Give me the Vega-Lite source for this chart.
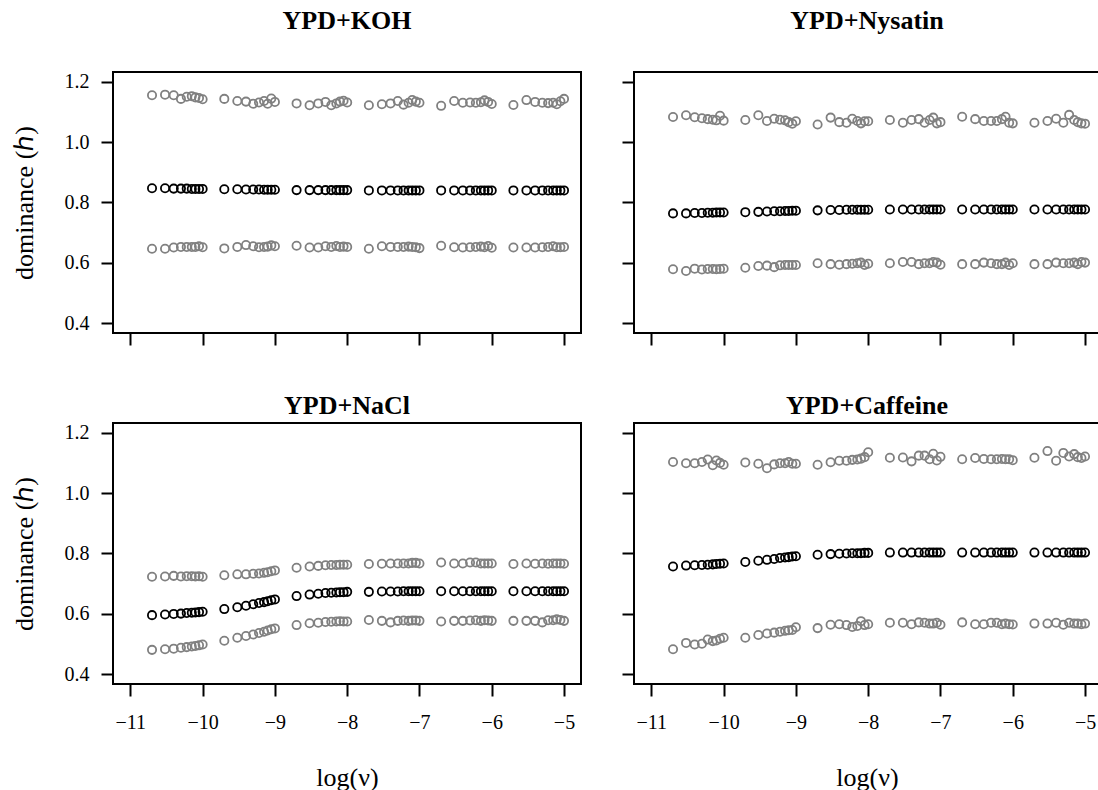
{
"$schema": "https://vega.github.io/schema/vega-lite/v6.json",
"background": "white",
"padding": {"left": 10, "top": 6, "right": 0, "bottom": 0},
"config": {
  "view": {"stroke": "black", "strokeWidth": 2},
  "font": "Liberation Serif",
  "axis": {"domain": false, "grid": false, "ticks": true, "tickColor": "black", "tickWidth": 2, "tickSize": 12,
    "labelFont": "Liberation Serif", "labelFontSize": 20, "labelColor": "black",
    "titleFont": "Liberation Serif", "titleFontSize": 26, "titleFontWeight": "normal", "titleColor": "black"},
  "title": {"font": "Liberation Serif", "fontSize": 26, "fontWeight": "bold", "color": "black", "anchor": "middle", "frame": "group", "baseline": "alphabetic"},
  "point": {"shape": "circle", "filled": false, "size": 68, "strokeWidth": 1.8, "opacity": 1}
},
"datasets": {
"KOH": [
{"s":"hi","x":-10.7,"y":1.155},{"s":"hi","x":-10.52,"y":1.157},{"s":"hi","x":-10.4,"y":1.155},{"s":"hi","x":-10.3,"y":1.143},{"s":"hi","x":-10.22,"y":1.15},{"s":"hi","x":-10.15,"y":1.152},{"s":"hi","x":-10.1,"y":1.148},{"s":"hi","x":-10.05,"y":1.146},{"s":"hi","x":-10,"y":1.142},
{"s":"hi","x":-9.7,"y":1.143},{"s":"hi","x":-9.52,"y":1.136},{"s":"hi","x":-9.4,"y":1.134},{"s":"hi","x":-9.3,"y":1.127},{"s":"hi","x":-9.22,"y":1.131},{"s":"hi","x":-9.15,"y":1.136},{"s":"hi","x":-9.1,"y":1.127},{"s":"hi","x":-9.05,"y":1.144},{"s":"hi","x":-9,"y":1.133},
{"s":"hi","x":-8.7,"y":1.128},{"s":"hi","x":-8.52,"y":1.122},{"s":"hi","x":-8.4,"y":1.128},{"s":"hi","x":-8.3,"y":1.133},{"s":"hi","x":-8.22,"y":1.122},{"s":"hi","x":-8.15,"y":1.128},{"s":"hi","x":-8.1,"y":1.134},{"s":"hi","x":-8.05,"y":1.137},{"s":"hi","x":-8,"y":1.131},
{"s":"hi","x":-7.7,"y":1.122},{"s":"hi","x":-7.52,"y":1.125},{"s":"hi","x":-7.4,"y":1.128},{"s":"hi","x":-7.3,"y":1.136},{"s":"hi","x":-7.22,"y":1.124},{"s":"hi","x":-7.15,"y":1.13},{"s":"hi","x":-7.1,"y":1.139},{"s":"hi","x":-7.05,"y":1.134},{"s":"hi","x":-7,"y":1.13},
{"s":"hi","x":-6.7,"y":1.12},{"s":"hi","x":-6.52,"y":1.136},{"s":"hi","x":-6.4,"y":1.13},{"s":"hi","x":-6.3,"y":1.131},{"s":"hi","x":-6.22,"y":1.13},{"s":"hi","x":-6.15,"y":1.132},{"s":"hi","x":-6.1,"y":1.138},{"s":"hi","x":-6.05,"y":1.133},{"s":"hi","x":-6,"y":1.126},
{"s":"hi","x":-5.7,"y":1.123},{"s":"hi","x":-5.52,"y":1.139},{"s":"hi","x":-5.4,"y":1.133},{"s":"hi","x":-5.3,"y":1.13},{"s":"hi","x":-5.22,"y":1.129},{"s":"hi","x":-5.15,"y":1.13},{"s":"hi","x":-5.1,"y":1.125},{"s":"hi","x":-5.05,"y":1.135},{"s":"hi","x":-5,"y":1.143},
{"s":"mid","x":-10.7,"y":0.847},{"s":"mid","x":-10.52,"y":0.847},{"s":"mid","x":-10.4,"y":0.846},{"s":"mid","x":-10.3,"y":0.846},{"s":"mid","x":-10.22,"y":0.846},{"s":"mid","x":-10.15,"y":0.845},{"s":"mid","x":-10.1,"y":0.845},{"s":"mid","x":-10.05,"y":0.845},{"s":"mid","x":-10,"y":0.845},
{"s":"mid","x":-9.7,"y":0.844},{"s":"mid","x":-9.52,"y":0.844},{"s":"mid","x":-9.4,"y":0.843},{"s":"mid","x":-9.3,"y":0.843},{"s":"mid","x":-9.22,"y":0.843},{"s":"mid","x":-9.15,"y":0.842},{"s":"mid","x":-9.1,"y":0.842},{"s":"mid","x":-9.05,"y":0.842},{"s":"mid","x":-9,"y":0.842},
{"s":"mid","x":-8.7,"y":0.841},{"s":"mid","x":-8.52,"y":0.841},{"s":"mid","x":-8.4,"y":0.841},{"s":"mid","x":-8.3,"y":0.841},{"s":"mid","x":-8.22,"y":0.841},{"s":"mid","x":-8.15,"y":0.841},{"s":"mid","x":-8.1,"y":0.841},{"s":"mid","x":-8.05,"y":0.841},{"s":"mid","x":-8,"y":0.841},
{"s":"mid","x":-7.7,"y":0.84},{"s":"mid","x":-7.52,"y":0.84},{"s":"mid","x":-7.4,"y":0.84},{"s":"mid","x":-7.3,"y":0.84},{"s":"mid","x":-7.22,"y":0.84},{"s":"mid","x":-7.15,"y":0.84},{"s":"mid","x":-7.1,"y":0.84},{"s":"mid","x":-7.05,"y":0.84},{"s":"mid","x":-7,"y":0.84},
{"s":"mid","x":-6.7,"y":0.84},{"s":"mid","x":-6.52,"y":0.84},{"s":"mid","x":-6.4,"y":0.84},{"s":"mid","x":-6.3,"y":0.84},{"s":"mid","x":-6.22,"y":0.84},{"s":"mid","x":-6.15,"y":0.84},{"s":"mid","x":-6.1,"y":0.84},{"s":"mid","x":-6.05,"y":0.84},{"s":"mid","x":-6,"y":0.84},
{"s":"mid","x":-5.7,"y":0.84},{"s":"mid","x":-5.52,"y":0.84},{"s":"mid","x":-5.4,"y":0.84},{"s":"mid","x":-5.3,"y":0.84},{"s":"mid","x":-5.22,"y":0.84},{"s":"mid","x":-5.15,"y":0.84},{"s":"mid","x":-5.1,"y":0.84},{"s":"mid","x":-5.05,"y":0.84},{"s":"mid","x":-5,"y":0.84},
{"s":"lo","x":-10.7,"y":0.647},{"s":"lo","x":-10.52,"y":0.647},{"s":"lo","x":-10.4,"y":0.651},{"s":"lo","x":-10.3,"y":0.653},{"s":"lo","x":-10.22,"y":0.653},{"s":"lo","x":-10.15,"y":0.653},{"s":"lo","x":-10.1,"y":0.653},{"s":"lo","x":-10.05,"y":0.655},{"s":"lo","x":-10,"y":0.652},
{"s":"lo","x":-9.7,"y":0.648},{"s":"lo","x":-9.52,"y":0.653},{"s":"lo","x":-9.4,"y":0.659},{"s":"lo","x":-9.3,"y":0.655},{"s":"lo","x":-9.22,"y":0.652},{"s":"lo","x":-9.15,"y":0.653},{"s":"lo","x":-9.1,"y":0.654},{"s":"lo","x":-9.05,"y":0.658},{"s":"lo","x":-9,"y":0.655},
{"s":"lo","x":-8.7,"y":0.657},{"s":"lo","x":-8.52,"y":0.651},{"s":"lo","x":-8.4,"y":0.651},{"s":"lo","x":-8.3,"y":0.655},{"s":"lo","x":-8.22,"y":0.653},{"s":"lo","x":-8.15,"y":0.656},{"s":"lo","x":-8.1,"y":0.653},{"s":"lo","x":-8.05,"y":0.654},{"s":"lo","x":-8,"y":0.653},
{"s":"lo","x":-7.7,"y":0.647},{"s":"lo","x":-7.52,"y":0.655},{"s":"lo","x":-7.4,"y":0.653},{"s":"lo","x":-7.3,"y":0.653},{"s":"lo","x":-7.22,"y":0.653},{"s":"lo","x":-7.15,"y":0.654},{"s":"lo","x":-7.1,"y":0.653},{"s":"lo","x":-7.05,"y":0.652},{"s":"lo","x":-7,"y":0.649},
{"s":"lo","x":-6.7,"y":0.657},{"s":"lo","x":-6.52,"y":0.652},{"s":"lo","x":-6.4,"y":0.651},{"s":"lo","x":-6.3,"y":0.652},{"s":"lo","x":-6.22,"y":0.653},{"s":"lo","x":-6.15,"y":0.654},{"s":"lo","x":-6.1,"y":0.652},{"s":"lo","x":-6.05,"y":0.656},{"s":"lo","x":-6,"y":0.65},
{"s":"lo","x":-5.7,"y":0.651},{"s":"lo","x":-5.52,"y":0.651},{"s":"lo","x":-5.4,"y":0.651},{"s":"lo","x":-5.3,"y":0.652},{"s":"lo","x":-5.22,"y":0.653},{"s":"lo","x":-5.15,"y":0.655},{"s":"lo","x":-5.1,"y":0.652},{"s":"lo","x":-5.05,"y":0.652},{"s":"lo","x":-5,"y":0.653}
],
"Nysatin": [
{"s":"hi","x":-10.7,"y":1.083},{"s":"hi","x":-10.52,"y":1.089},{"s":"hi","x":-10.4,"y":1.082},{"s":"hi","x":-10.3,"y":1.079},{"s":"hi","x":-10.22,"y":1.076},{"s":"hi","x":-10.15,"y":1.074},{"s":"hi","x":-10.1,"y":1.072},{"s":"hi","x":-10.05,"y":1.087},{"s":"hi","x":-10,"y":1.071},
{"s":"hi","x":-9.7,"y":1.073},{"s":"hi","x":-9.52,"y":1.089},{"s":"hi","x":-9.4,"y":1.07},{"s":"hi","x":-9.3,"y":1.077},{"s":"hi","x":-9.22,"y":1.074},{"s":"hi","x":-9.15,"y":1.072},{"s":"hi","x":-9.1,"y":1.066},{"s":"hi","x":-9.05,"y":1.061},{"s":"hi","x":-9,"y":1.069},
{"s":"hi","x":-8.7,"y":1.058},{"s":"hi","x":-8.52,"y":1.081},{"s":"hi","x":-8.4,"y":1.066},{"s":"hi","x":-8.3,"y":1.064},{"s":"hi","x":-8.22,"y":1.077},{"s":"hi","x":-8.15,"y":1.07},{"s":"hi","x":-8.1,"y":1.062},{"s":"hi","x":-8.05,"y":1.069},{"s":"hi","x":-8,"y":1.069},
{"s":"hi","x":-7.7,"y":1.073},{"s":"hi","x":-7.52,"y":1.064},{"s":"hi","x":-7.4,"y":1.073},{"s":"hi","x":-7.3,"y":1.076},{"s":"hi","x":-7.22,"y":1.064},{"s":"hi","x":-7.15,"y":1.073},{"s":"hi","x":-7.1,"y":1.081},{"s":"hi","x":-7.05,"y":1.062},{"s":"hi","x":-7,"y":1.066},
{"s":"hi","x":-6.7,"y":1.084},{"s":"hi","x":-6.52,"y":1.076},{"s":"hi","x":-6.4,"y":1.07},{"s":"hi","x":-6.3,"y":1.07},{"s":"hi","x":-6.22,"y":1.07},{"s":"hi","x":-6.15,"y":1.076},{"s":"hi","x":-6.1,"y":1.084},{"s":"hi","x":-6.05,"y":1.064},{"s":"hi","x":-6,"y":1.062},
{"s":"hi","x":-5.7,"y":1.064},{"s":"hi","x":-5.52,"y":1.07},{"s":"hi","x":-5.4,"y":1.077},{"s":"hi","x":-5.3,"y":1.064},{"s":"hi","x":-5.22,"y":1.09},{"s":"hi","x":-5.15,"y":1.073},{"s":"hi","x":-5.1,"y":1.066},{"s":"hi","x":-5.05,"y":1.062},{"s":"hi","x":-5,"y":1.061},
{"s":"mid","x":-10.7,"y":0.764},{"s":"mid","x":-10.52,"y":0.764},{"s":"mid","x":-10.4,"y":0.765},{"s":"mid","x":-10.3,"y":0.765},{"s":"mid","x":-10.22,"y":0.766},{"s":"mid","x":-10.15,"y":0.766},{"s":"mid","x":-10.1,"y":0.767},{"s":"mid","x":-10.05,"y":0.767},{"s":"mid","x":-10,"y":0.767},
{"s":"mid","x":-9.7,"y":0.768},{"s":"mid","x":-9.52,"y":0.769},{"s":"mid","x":-9.4,"y":0.77},{"s":"mid","x":-9.3,"y":0.771},{"s":"mid","x":-9.22,"y":0.771},{"s":"mid","x":-9.15,"y":0.772},{"s":"mid","x":-9.1,"y":0.772},{"s":"mid","x":-9.05,"y":0.773},{"s":"mid","x":-9,"y":0.773},
{"s":"mid","x":-8.7,"y":0.774},{"s":"mid","x":-8.52,"y":0.775},{"s":"mid","x":-8.4,"y":0.775},{"s":"mid","x":-8.3,"y":0.776},{"s":"mid","x":-8.22,"y":0.776},{"s":"mid","x":-8.15,"y":0.776},{"s":"mid","x":-8.1,"y":0.776},{"s":"mid","x":-8.05,"y":0.776},{"s":"mid","x":-8,"y":0.776},
{"s":"mid","x":-7.7,"y":0.777},{"s":"mid","x":-7.52,"y":0.777},{"s":"mid","x":-7.4,"y":0.777},{"s":"mid","x":-7.3,"y":0.777},{"s":"mid","x":-7.22,"y":0.777},{"s":"mid","x":-7.15,"y":0.777},{"s":"mid","x":-7.1,"y":0.777},{"s":"mid","x":-7.05,"y":0.777},{"s":"mid","x":-7,"y":0.777},
{"s":"mid","x":-6.7,"y":0.777},{"s":"mid","x":-6.52,"y":0.777},{"s":"mid","x":-6.4,"y":0.777},{"s":"mid","x":-6.3,"y":0.777},{"s":"mid","x":-6.22,"y":0.777},{"s":"mid","x":-6.15,"y":0.777},{"s":"mid","x":-6.1,"y":0.777},{"s":"mid","x":-6.05,"y":0.777},{"s":"mid","x":-6,"y":0.777},
{"s":"mid","x":-5.7,"y":0.777},{"s":"mid","x":-5.52,"y":0.777},{"s":"mid","x":-5.4,"y":0.777},{"s":"mid","x":-5.3,"y":0.777},{"s":"mid","x":-5.22,"y":0.777},{"s":"mid","x":-5.15,"y":0.777},{"s":"mid","x":-5.1,"y":0.777},{"s":"mid","x":-5.05,"y":0.777},{"s":"mid","x":-5,"y":0.777},
{"s":"lo","x":-10.7,"y":0.579},{"s":"lo","x":-10.52,"y":0.573},{"s":"lo","x":-10.4,"y":0.581},{"s":"lo","x":-10.3,"y":0.578},{"s":"lo","x":-10.22,"y":0.58},{"s":"lo","x":-10.15,"y":0.58},{"s":"lo","x":-10.1,"y":0.579},{"s":"lo","x":-10.05,"y":0.58},{"s":"lo","x":-10,"y":0.581},
{"s":"lo","x":-9.7,"y":0.584},{"s":"lo","x":-9.52,"y":0.59},{"s":"lo","x":-9.4,"y":0.591},{"s":"lo","x":-9.3,"y":0.586},{"s":"lo","x":-9.22,"y":0.592},{"s":"lo","x":-9.15,"y":0.593},{"s":"lo","x":-9.1,"y":0.593},{"s":"lo","x":-9.05,"y":0.593},{"s":"lo","x":-9,"y":0.593},
{"s":"lo","x":-8.7,"y":0.599},{"s":"lo","x":-8.52,"y":0.596},{"s":"lo","x":-8.4,"y":0.594},{"s":"lo","x":-8.3,"y":0.596},{"s":"lo","x":-8.22,"y":0.597},{"s":"lo","x":-8.15,"y":0.599},{"s":"lo","x":-8.1,"y":0.601},{"s":"lo","x":-8.05,"y":0.593},{"s":"lo","x":-8,"y":0.597},
{"s":"lo","x":-7.7,"y":0.599},{"s":"lo","x":-7.52,"y":0.603},{"s":"lo","x":-7.4,"y":0.603},{"s":"lo","x":-7.3,"y":0.596},{"s":"lo","x":-7.22,"y":0.599},{"s":"lo","x":-7.15,"y":0.599},{"s":"lo","x":-7.1,"y":0.603},{"s":"lo","x":-7.05,"y":0.601},{"s":"lo","x":-7,"y":0.594},
{"s":"lo","x":-6.7,"y":0.596},{"s":"lo","x":-6.52,"y":0.596},{"s":"lo","x":-6.4,"y":0.601},{"s":"lo","x":-6.3,"y":0.599},{"s":"lo","x":-6.22,"y":0.596},{"s":"lo","x":-6.15,"y":0.596},{"s":"lo","x":-6.1,"y":0.601},{"s":"lo","x":-6.05,"y":0.593},{"s":"lo","x":-6,"y":0.599},
{"s":"lo","x":-5.7,"y":0.596},{"s":"lo","x":-5.52,"y":0.596},{"s":"lo","x":-5.4,"y":0.601},{"s":"lo","x":-5.3,"y":0.599},{"s":"lo","x":-5.22,"y":0.599},{"s":"lo","x":-5.15,"y":0.601},{"s":"lo","x":-5.1,"y":0.596},{"s":"lo","x":-5.05,"y":0.603},{"s":"lo","x":-5,"y":0.601}
],
"NaCl": [
{"s":"hi","x":-10.7,"y":0.723},{"s":"hi","x":-10.52,"y":0.724},{"s":"hi","x":-10.4,"y":0.726},{"s":"hi","x":-10.3,"y":0.724},{"s":"hi","x":-10.22,"y":0.725},{"s":"hi","x":-10.15,"y":0.725},{"s":"hi","x":-10.1,"y":0.724},{"s":"hi","x":-10.05,"y":0.725},{"s":"hi","x":-10,"y":0.723},
{"s":"hi","x":-9.7,"y":0.728},{"s":"hi","x":-9.52,"y":0.731},{"s":"hi","x":-9.4,"y":0.731},{"s":"hi","x":-9.3,"y":0.733},{"s":"hi","x":-9.22,"y":0.734},{"s":"hi","x":-9.15,"y":0.736},{"s":"hi","x":-9.1,"y":0.738},{"s":"hi","x":-9.05,"y":0.741},{"s":"hi","x":-9,"y":0.744},
{"s":"hi","x":-8.7,"y":0.753},{"s":"hi","x":-8.52,"y":0.757},{"s":"hi","x":-8.4,"y":0.759},{"s":"hi","x":-8.3,"y":0.761},{"s":"hi","x":-8.22,"y":0.762},{"s":"hi","x":-8.15,"y":0.762},{"s":"hi","x":-8.1,"y":0.763},{"s":"hi","x":-8.05,"y":0.763},{"s":"hi","x":-8,"y":0.763},
{"s":"hi","x":-7.7,"y":0.765},{"s":"hi","x":-7.52,"y":0.766},{"s":"hi","x":-7.4,"y":0.767},{"s":"hi","x":-7.3,"y":0.767},{"s":"hi","x":-7.22,"y":0.767},{"s":"hi","x":-7.15,"y":0.767},{"s":"hi","x":-7.1,"y":0.769},{"s":"hi","x":-7.05,"y":0.769},{"s":"hi","x":-7,"y":0.767},
{"s":"hi","x":-6.7,"y":0.77},{"s":"hi","x":-6.52,"y":0.767},{"s":"hi","x":-6.4,"y":0.767},{"s":"hi","x":-6.3,"y":0.77},{"s":"hi","x":-6.22,"y":0.77},{"s":"hi","x":-6.15,"y":0.767},{"s":"hi","x":-6.1,"y":0.767},{"s":"hi","x":-6.05,"y":0.767},{"s":"hi","x":-6,"y":0.767},
{"s":"hi","x":-5.7,"y":0.765},{"s":"hi","x":-5.52,"y":0.767},{"s":"hi","x":-5.4,"y":0.766},{"s":"hi","x":-5.3,"y":0.767},{"s":"hi","x":-5.22,"y":0.766},{"s":"hi","x":-5.15,"y":0.767},{"s":"hi","x":-5.1,"y":0.767},{"s":"hi","x":-5.05,"y":0.767},{"s":"hi","x":-5,"y":0.766},
{"s":"mid","x":-10.7,"y":0.596},{"s":"mid","x":-10.52,"y":0.598},{"s":"mid","x":-10.4,"y":0.6},{"s":"mid","x":-10.3,"y":0.601},{"s":"mid","x":-10.22,"y":0.603},{"s":"mid","x":-10.15,"y":0.604},{"s":"mid","x":-10.1,"y":0.605},{"s":"mid","x":-10.05,"y":0.606},{"s":"mid","x":-10,"y":0.607},
{"s":"mid","x":-9.7,"y":0.616},{"s":"mid","x":-9.52,"y":0.622},{"s":"mid","x":-9.4,"y":0.627},{"s":"mid","x":-9.3,"y":0.632},{"s":"mid","x":-9.22,"y":0.636},{"s":"mid","x":-9.15,"y":0.639},{"s":"mid","x":-9.1,"y":0.642},{"s":"mid","x":-9.05,"y":0.645},{"s":"mid","x":-9,"y":0.648},
{"s":"mid","x":-8.7,"y":0.659},{"s":"mid","x":-8.52,"y":0.664},{"s":"mid","x":-8.4,"y":0.667},{"s":"mid","x":-8.3,"y":0.669},{"s":"mid","x":-8.22,"y":0.67},{"s":"mid","x":-8.15,"y":0.671},{"s":"mid","x":-8.1,"y":0.672},{"s":"mid","x":-8.05,"y":0.672},{"s":"mid","x":-8,"y":0.673},
{"s":"mid","x":-7.7,"y":0.673},{"s":"mid","x":-7.52,"y":0.674},{"s":"mid","x":-7.4,"y":0.674},{"s":"mid","x":-7.3,"y":0.674},{"s":"mid","x":-7.22,"y":0.675},{"s":"mid","x":-7.15,"y":0.675},{"s":"mid","x":-7.1,"y":0.675},{"s":"mid","x":-7.05,"y":0.675},{"s":"mid","x":-7,"y":0.675},
{"s":"mid","x":-6.7,"y":0.675},{"s":"mid","x":-6.52,"y":0.675},{"s":"mid","x":-6.4,"y":0.675},{"s":"mid","x":-6.3,"y":0.675},{"s":"mid","x":-6.22,"y":0.675},{"s":"mid","x":-6.15,"y":0.675},{"s":"mid","x":-6.1,"y":0.675},{"s":"mid","x":-6.05,"y":0.675},{"s":"mid","x":-6,"y":0.675},
{"s":"mid","x":-5.7,"y":0.675},{"s":"mid","x":-5.52,"y":0.675},{"s":"mid","x":-5.4,"y":0.675},{"s":"mid","x":-5.3,"y":0.675},{"s":"mid","x":-5.22,"y":0.675},{"s":"mid","x":-5.15,"y":0.675},{"s":"mid","x":-5.1,"y":0.675},{"s":"mid","x":-5.05,"y":0.675},{"s":"mid","x":-5,"y":0.675},
{"s":"lo","x":-10.7,"y":0.481},{"s":"lo","x":-10.52,"y":0.483},{"s":"lo","x":-10.4,"y":0.485},{"s":"lo","x":-10.3,"y":0.488},{"s":"lo","x":-10.22,"y":0.49},{"s":"lo","x":-10.15,"y":0.492},{"s":"lo","x":-10.1,"y":0.494},{"s":"lo","x":-10.05,"y":0.496},{"s":"lo","x":-10,"y":0.499},
{"s":"lo","x":-9.7,"y":0.511},{"s":"lo","x":-9.52,"y":0.521},{"s":"lo","x":-9.4,"y":0.527},{"s":"lo","x":-9.3,"y":0.532},{"s":"lo","x":-9.22,"y":0.537},{"s":"lo","x":-9.15,"y":0.541},{"s":"lo","x":-9.1,"y":0.545},{"s":"lo","x":-9.05,"y":0.549},{"s":"lo","x":-9,"y":0.552},
{"s":"lo","x":-8.7,"y":0.563},{"s":"lo","x":-8.52,"y":0.569},{"s":"lo","x":-8.4,"y":0.571},{"s":"lo","x":-8.3,"y":0.573},{"s":"lo","x":-8.22,"y":0.574},{"s":"lo","x":-8.15,"y":0.575},{"s":"lo","x":-8.1,"y":0.576},{"s":"lo","x":-8.05,"y":0.575},{"s":"lo","x":-8,"y":0.575},
{"s":"lo","x":-7.7,"y":0.58},{"s":"lo","x":-7.52,"y":0.577},{"s":"lo","x":-7.4,"y":0.572},{"s":"lo","x":-7.3,"y":0.577},{"s":"lo","x":-7.22,"y":0.578},{"s":"lo","x":-7.15,"y":0.577},{"s":"lo","x":-7.1,"y":0.578},{"s":"lo","x":-7.05,"y":0.578},{"s":"lo","x":-7,"y":0.577},
{"s":"lo","x":-6.7,"y":0.575},{"s":"lo","x":-6.52,"y":0.577},{"s":"lo","x":-6.4,"y":0.577},{"s":"lo","x":-6.3,"y":0.578},{"s":"lo","x":-6.22,"y":0.579},{"s":"lo","x":-6.15,"y":0.577},{"s":"lo","x":-6.1,"y":0.579},{"s":"lo","x":-6.05,"y":0.578},{"s":"lo","x":-6,"y":0.577},
{"s":"lo","x":-5.7,"y":0.577},{"s":"lo","x":-5.52,"y":0.577},{"s":"lo","x":-5.4,"y":0.577},{"s":"lo","x":-5.3,"y":0.572},{"s":"lo","x":-5.22,"y":0.579},{"s":"lo","x":-5.15,"y":0.579},{"s":"lo","x":-5.1,"y":0.582},{"s":"lo","x":-5.05,"y":0.58},{"s":"lo","x":-5,"y":0.577}
],
"Caffeine": [
{"s":"hi","x":-10.7,"y":1.103},{"s":"hi","x":-10.52,"y":1.099},{"s":"hi","x":-10.4,"y":1.099},{"s":"hi","x":-10.3,"y":1.103},{"s":"hi","x":-10.22,"y":1.111},{"s":"hi","x":-10.15,"y":1.092},{"s":"hi","x":-10.1,"y":1.108},{"s":"hi","x":-10.05,"y":1.1},{"s":"hi","x":-10,"y":1.094},
{"s":"hi","x":-9.7,"y":1.101},{"s":"hi","x":-9.52,"y":1.097},{"s":"hi","x":-9.4,"y":1.082},{"s":"hi","x":-9.3,"y":1.095},{"s":"hi","x":-9.22,"y":1.099},{"s":"hi","x":-9.15,"y":1.099},{"s":"hi","x":-9.1,"y":1.103},{"s":"hi","x":-9.05,"y":1.097},{"s":"hi","x":-9,"y":1.097},
{"s":"hi","x":-8.7,"y":1.094},{"s":"hi","x":-8.52,"y":1.102},{"s":"hi","x":-8.4,"y":1.107},{"s":"hi","x":-8.3,"y":1.107},{"s":"hi","x":-8.22,"y":1.11},{"s":"hi","x":-8.15,"y":1.111},{"s":"hi","x":-8.1,"y":1.114},{"s":"hi","x":-8.05,"y":1.119},{"s":"hi","x":-8,"y":1.135},
{"s":"hi","x":-7.7,"y":1.117},{"s":"hi","x":-7.52,"y":1.118},{"s":"hi","x":-7.4,"y":1.105},{"s":"hi","x":-7.3,"y":1.124},{"s":"hi","x":-7.22,"y":1.124},{"s":"hi","x":-7.15,"y":1.112},{"s":"hi","x":-7.1,"y":1.13},{"s":"hi","x":-7.05,"y":1.108},{"s":"hi","x":-7,"y":1.12},
{"s":"hi","x":-6.7,"y":1.112},{"s":"hi","x":-6.52,"y":1.116},{"s":"hi","x":-6.4,"y":1.113},{"s":"hi","x":-6.3,"y":1.112},{"s":"hi","x":-6.22,"y":1.112},{"s":"hi","x":-6.15,"y":1.113},{"s":"hi","x":-6.1,"y":1.112},{"s":"hi","x":-6.05,"y":1.112},{"s":"hi","x":-6,"y":1.109},
{"s":"hi","x":-5.7,"y":1.117},{"s":"hi","x":-5.52,"y":1.139},{"s":"hi","x":-5.4,"y":1.107},{"s":"hi","x":-5.3,"y":1.133},{"s":"hi","x":-5.22,"y":1.121},{"s":"hi","x":-5.15,"y":1.129},{"s":"hi","x":-5.1,"y":1.119},{"s":"hi","x":-5.05,"y":1.116},{"s":"hi","x":-5,"y":1.121},
{"s":"mid","x":-10.7,"y":0.757},{"s":"mid","x":-10.52,"y":0.76},{"s":"mid","x":-10.4,"y":0.761},{"s":"mid","x":-10.3,"y":0.762},{"s":"mid","x":-10.22,"y":0.763},{"s":"mid","x":-10.15,"y":0.764},{"s":"mid","x":-10.1,"y":0.765},{"s":"mid","x":-10.05,"y":0.766},{"s":"mid","x":-10,"y":0.767},
{"s":"mid","x":-9.7,"y":0.772},{"s":"mid","x":-9.52,"y":0.776},{"s":"mid","x":-9.4,"y":0.779},{"s":"mid","x":-9.3,"y":0.782},{"s":"mid","x":-9.22,"y":0.785},{"s":"mid","x":-9.15,"y":0.787},{"s":"mid","x":-9.1,"y":0.788},{"s":"mid","x":-9.05,"y":0.79},{"s":"mid","x":-9,"y":0.791},
{"s":"mid","x":-8.7,"y":0.796},{"s":"mid","x":-8.52,"y":0.798},{"s":"mid","x":-8.4,"y":0.799},{"s":"mid","x":-8.3,"y":0.8},{"s":"mid","x":-8.22,"y":0.801},{"s":"mid","x":-8.15,"y":0.801},{"s":"mid","x":-8.1,"y":0.801},{"s":"mid","x":-8.05,"y":0.802},{"s":"mid","x":-8,"y":0.802},
{"s":"mid","x":-7.7,"y":0.803},{"s":"mid","x":-7.52,"y":0.803},{"s":"mid","x":-7.4,"y":0.803},{"s":"mid","x":-7.3,"y":0.803},{"s":"mid","x":-7.22,"y":0.803},{"s":"mid","x":-7.15,"y":0.803},{"s":"mid","x":-7.1,"y":0.803},{"s":"mid","x":-7.05,"y":0.803},{"s":"mid","x":-7,"y":0.803},
{"s":"mid","x":-6.7,"y":0.803},{"s":"mid","x":-6.52,"y":0.803},{"s":"mid","x":-6.4,"y":0.803},{"s":"mid","x":-6.3,"y":0.803},{"s":"mid","x":-6.22,"y":0.803},{"s":"mid","x":-6.15,"y":0.803},{"s":"mid","x":-6.1,"y":0.803},{"s":"mid","x":-6.05,"y":0.803},{"s":"mid","x":-6,"y":0.803},
{"s":"mid","x":-5.7,"y":0.803},{"s":"mid","x":-5.52,"y":0.803},{"s":"mid","x":-5.4,"y":0.803},{"s":"mid","x":-5.3,"y":0.803},{"s":"mid","x":-5.22,"y":0.803},{"s":"mid","x":-5.15,"y":0.803},{"s":"mid","x":-5.1,"y":0.803},{"s":"mid","x":-5.05,"y":0.803},{"s":"mid","x":-5,"y":0.803},
{"s":"lo","x":-10.7,"y":0.483},{"s":"lo","x":-10.52,"y":0.504},{"s":"lo","x":-10.4,"y":0.499},{"s":"lo","x":-10.3,"y":0.501},{"s":"lo","x":-10.22,"y":0.515},{"s":"lo","x":-10.15,"y":0.51},{"s":"lo","x":-10.1,"y":0.512},{"s":"lo","x":-10.05,"y":0.518},{"s":"lo","x":-10,"y":0.521},
{"s":"lo","x":-9.7,"y":0.521},{"s":"lo","x":-9.52,"y":0.53},{"s":"lo","x":-9.4,"y":0.535},{"s":"lo","x":-9.3,"y":0.538},{"s":"lo","x":-9.22,"y":0.541},{"s":"lo","x":-9.15,"y":0.544},{"s":"lo","x":-9.1,"y":0.546},{"s":"lo","x":-9.05,"y":0.547},{"s":"lo","x":-9,"y":0.556},
{"s":"lo","x":-8.7,"y":0.553},{"s":"lo","x":-8.52,"y":0.564},{"s":"lo","x":-8.4,"y":0.566},{"s":"lo","x":-8.3,"y":0.563},{"s":"lo","x":-8.22,"y":0.557},{"s":"lo","x":-8.15,"y":0.56},{"s":"lo","x":-8.1,"y":0.576},{"s":"lo","x":-8.05,"y":0.563},{"s":"lo","x":-8,"y":0.566},
{"s":"lo","x":-7.7,"y":0.571},{"s":"lo","x":-7.52,"y":0.571},{"s":"lo","x":-7.4,"y":0.566},{"s":"lo","x":-7.3,"y":0.572},{"s":"lo","x":-7.22,"y":0.571},{"s":"lo","x":-7.15,"y":0.568},{"s":"lo","x":-7.1,"y":0.568},{"s":"lo","x":-7.05,"y":0.571},{"s":"lo","x":-7,"y":0.564},
{"s":"lo","x":-6.7,"y":0.572},{"s":"lo","x":-6.52,"y":0.566},{"s":"lo","x":-6.4,"y":0.566},{"s":"lo","x":-6.3,"y":0.571},{"s":"lo","x":-6.22,"y":0.571},{"s":"lo","x":-6.15,"y":0.566},{"s":"lo","x":-6.1,"y":0.568},{"s":"lo","x":-6.05,"y":0.566},{"s":"lo","x":-6,"y":0.565},
{"s":"lo","x":-5.7,"y":0.568},{"s":"lo","x":-5.52,"y":0.568},{"s":"lo","x":-5.4,"y":0.571},{"s":"lo","x":-5.3,"y":0.564},{"s":"lo","x":-5.22,"y":0.571},{"s":"lo","x":-5.15,"y":0.568},{"s":"lo","x":-5.1,"y":0.568},{"s":"lo","x":-5.05,"y":0.566},{"s":"lo","x":-5,"y":0.568}
]
},
"spacing": 44,
"vconcat": [
{"spacing": 38, "hconcat": [
 {"width": 468, "height": 261, "data": {"name": "KOH"},
  "title": {"text": "YPD+KOH", "offset": 38},
  "mark": {"type": "point"},
  "encoding": {
   "x": {"field": "x", "type": "quantitative", "scale": {"domain": [-11.24, -4.765], "nice": false, "zero": false}, "axis": {"values": [-11,-10,-9,-8,-7,-6,-5], "labels": false, "title": null, "minExtent": 0, "maxExtent": 12}},
   "y": {"field": "y", "type": "quantitative", "scale": {"domain": [0.368, 1.232], "nice": false, "zero": false}, "axis": {"values": [0.4,0.6,0.8,1.0,1.2], "format": ".1f", "title": "dominance (ℎ)", "labelPadding": 12, "minExtent": 52, "maxExtent": 52, "titlePadding": 24}},
   "color": {"field": "s", "type": "nominal", "scale": {"domain": ["hi","mid","lo"], "range": ["#808080","#000000","#808080"]}, "legend": null}
  }},
 {"width": 466, "height": 261, "data": {"name": "Nysatin"},
  "title": {"text": "YPD+Nysatin", "offset": 38},
  "mark": {"type": "point"},
  "encoding": {
   "x": {"field": "x", "type": "quantitative", "scale": {"domain": [-11.24, -4.793], "nice": false, "zero": false}, "axis": {"values": [-11,-10,-9,-8,-7,-6,-5], "labels": false, "title": null, "minExtent": 0, "maxExtent": 12}},
   "y": {"field": "y", "type": "quantitative", "scale": {"domain": [0.368, 1.232], "nice": false, "zero": false}, "axis": {"values": [0.4,0.6,0.8,1.0,1.2], "labels": false, "title": null, "minExtent": 0, "maxExtent": 12}},
   "color": {"field": "s", "type": "nominal", "scale": {"domain": ["hi","mid","lo"], "range": ["#808080","#000000","#808080"]}, "legend": null}
  }}
]},
{"spacing": 38, "hconcat": [
 {"width": 468, "height": 261, "data": {"name": "NaCl"},
  "title": {"text": "YPD+NaCl", "offset": 4},
  "mark": {"type": "point"},
  "encoding": {
   "x": {"field": "x", "type": "quantitative", "scale": {"domain": [-11.24, -4.765], "nice": false, "zero": false}, "axis": {"values": [-11,-10,-9,-8,-7,-6,-5], "format": "d", "title": "log(ν)", "labelPadding": 16, "minExtent": 50, "maxExtent": 50, "titlePadding": 30}},
   "y": {"field": "y", "type": "quantitative", "scale": {"domain": [0.368, 1.232], "nice": false, "zero": false}, "axis": {"values": [0.4,0.6,0.8,1.0,1.2], "format": ".1f", "title": "dominance (ℎ)", "labelPadding": 12, "minExtent": 52, "maxExtent": 52, "titlePadding": 24}},
   "color": {"field": "s", "type": "nominal", "scale": {"domain": ["hi","mid","lo"], "range": ["#808080","#000000","#808080"]}, "legend": null}
  }},
 {"width": 466, "height": 261, "data": {"name": "Caffeine"},
  "title": {"text": "YPD+Caffeine", "offset": 4},
  "mark": {"type": "point"},
  "encoding": {
   "x": {"field": "x", "type": "quantitative", "scale": {"domain": [-11.24, -4.793], "nice": false, "zero": false}, "axis": {"values": [-11,-10,-9,-8,-7,-6,-5], "format": "d", "title": "log(ν)", "labelPadding": 16, "minExtent": 50, "maxExtent": 50, "titlePadding": 30}},
   "y": {"field": "y", "type": "quantitative", "scale": {"domain": [0.368, 1.232], "nice": false, "zero": false}, "axis": {"values": [0.4,0.6,0.8,1.0,1.2], "labels": false, "title": null, "minExtent": 0, "maxExtent": 12}},
   "color": {"field": "s", "type": "nominal", "scale": {"domain": ["hi","mid","lo"], "range": ["#808080","#000000","#808080"]}, "legend": null}
  }}
]}
]
}
